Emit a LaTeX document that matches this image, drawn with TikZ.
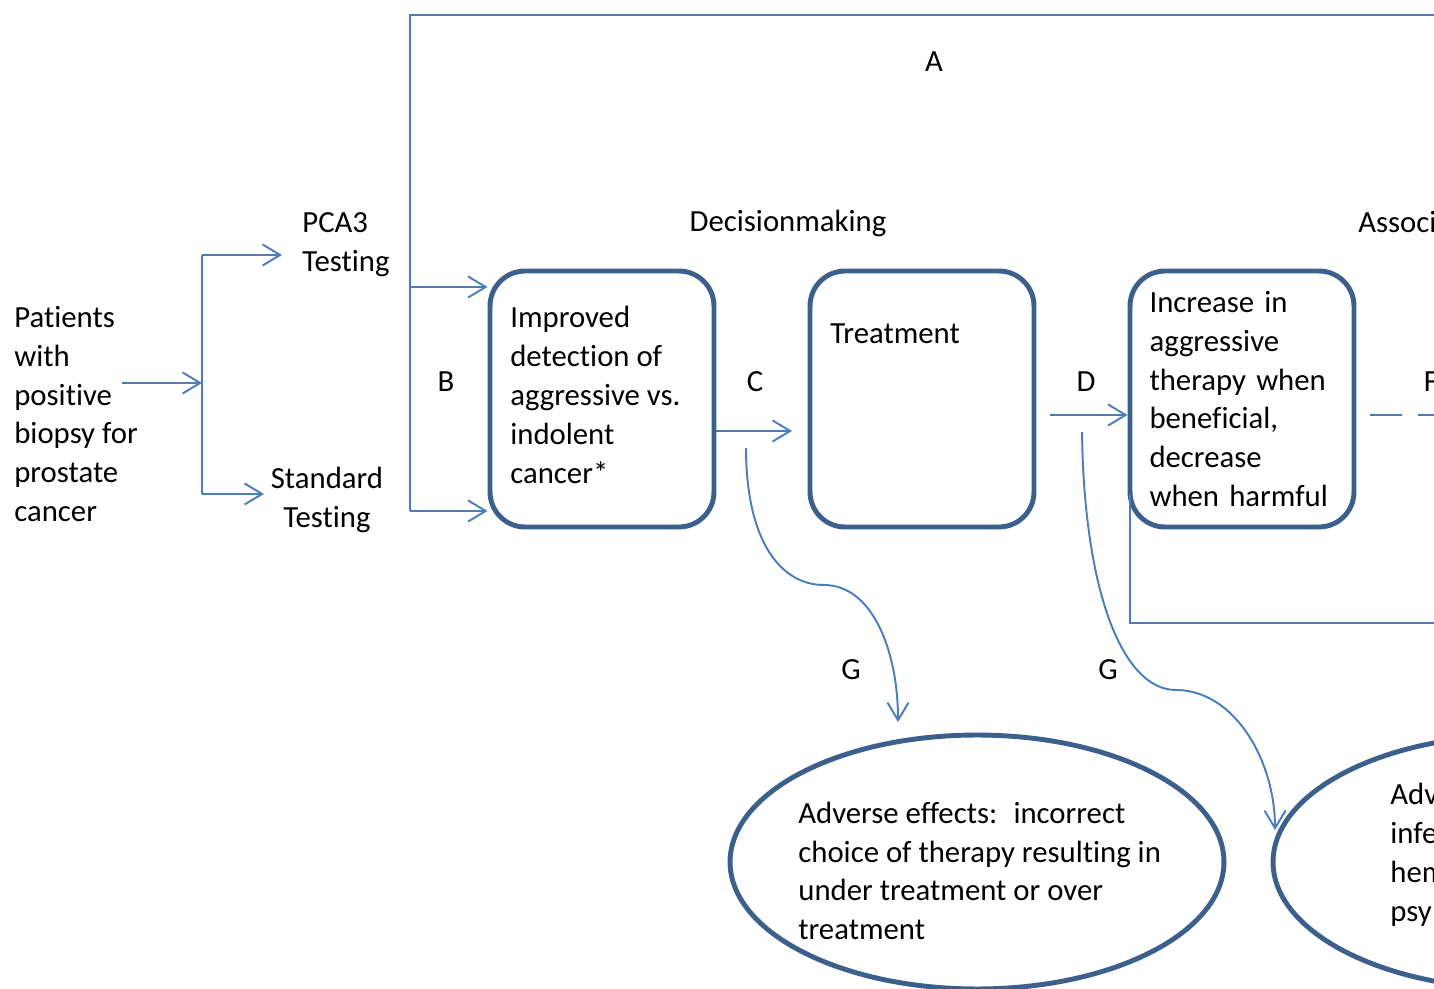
\documentclass[tikz,border=0pt]{standalone}
\usepackage{fontspec}
\setmainfont{Carlito}[Ligatures=NoCommon]
\usepackage{xcolor}
\usetikzlibrary{arrows.meta,positioning,calc,shapes.geometric}
\definecolor{cLine}{HTML}{4A7EBB}
\definecolor{cBox}{HTML}{3C5F8C}
\definecolor{cInk}{HTML}{000000}
\tikzset{
  >={Straight Barb[length=10pt,width=12pt]},
  txt/.style  ={inner sep=0pt,font=\fontsize{17.5}{22.1}\selectfont,text=cInk},
  lbox/.style ={txt,align=left},
  rbox/.style ={txt,draw=cBox,line width=2.8pt,rounded corners=0.7cm,
                minimum width=4.48cm,minimum height=5.12cm,
                text width=3.7cm,align=left},
  obox/.style ={ellipse,draw=cBox,line width=2.8pt,
                minimum width=9.88cm,minimum height=5.08cm},
  ln/.style   ={line width=1.1pt,cLine},
  ar/.style   ={->,ln},
}

\begin{document}
\begin{tikzpicture}[x=0.02cm,y=-0.02cm]
\useasboundingbox (0,0) rectangle (1434,989);
\clip (0,0) rectangle (1434,989);
% left side
\node[lbox,anchor=west] (pat) at (14,414) {Patients\\with\\positive\\biopsy for\\prostate\\cancer};
\node[lbox,anchor=west] (pca) at (302,245) {PCA3\\Testing};
\node[txt,align=center] (std) at (327,500) {Standard\\Testing};
\coordinate (pOut) at (122,383);
\coordinate (split) at (202,383);
\coordinate (sT) at (202,255);
\coordinate (sB) at (202,494);
\coordinate (pT) at (282,255);
\coordinate (pB) at (264,494);
\draw[ar] (pOut) -- (split);
\draw[ln] (sT) -- (sB);
\draw[ar] (sT) -- (pT);
\draw[ar] (sB) -- (pB);
% boxes
\node[rbox] (b1) at (602,399) {};
\node[lbox,anchor=west] (b1t) at (510,395) {Improved\\detection of\\aggressive vs.\\indolent\\cancer*};
\node[rbox] (b2) at (922,399) {};
\node[txt,anchor=west] (trt) at (830,334) {Treatment};
\node[rbox] (b3) at (1242,399) {Increase in\\aggressive\\therapy when\\beneficial,\\decrease\\when harmful};
\node[txt,anchor=base] (dec) at (788,232) {Decisionmaking};
\node[txt,anchor=west] (asc) at (1358,222) {Associ};
% ellipses
\node[obox] (e1) at (977,862) {};
\node[lbox,anchor=west] (e1t) at (798,871) {Adverse effects:~ incorrect\\choice of therapy resulting in\\under treatment or over\\treatment};
\node[obox] (e2) at (1520,862) {};
\node[lbox,anchor=west] (e2t) at (1390,855) {Adv\\infe\\hem\\psy};
% A and B
\coordinate (vB) at (410,511);
\coordinate (vT) at (410,287);
\coordinate (cA) at (410,15);
\coordinate (topR) at (1440,15);
\draw[ln] (vB) -- (cA) -- (topR);
\draw[ar] (vT) -- (vT -| b1.west);
\draw[ar] (vB) -- (vB -| b1.west);
\node[txt] (lA) at (934,62) {A};
\node[txt] (lB) at (446,382) {B};
% C and D
\coordinate (cS) at (716,431);
\coordinate (cE) at (792,431);
\draw[ar] (cS) -- (cE);
\node[txt] (lC) at (755,382) {C};
\coordinate (dS) at (1050,415);
\draw[ar] (dS) -- (dS -| b3.west);
\node[txt] (lD) at (1086,382) {D};
\coordinate (eS) at (1130,495);
\coordinate (eR) at (1440,623);
\draw[ln] (eS) |- (eR);
% F
\coordinate (fS) at (1370,415);
\coordinate (fE) at (1440,415);
\draw[ln,dash pattern=on 18.1pt off 9.1pt] (fS) -- (fE);
\node[txt] (lF) at (1431,382) {F};
% G
\coordinate (g1s) at (746,448);
\coordinate (g1m) at (824,585);
\coordinate (g1e) at (898,722);
\draw[ar] (g1s) .. controls (746,540) and (780,585) .. (g1m)
                .. controls (872,585) and (898,650) .. (g1e);
\node[txt] (lG1) at (851,670) {G};
\coordinate (g2s) at (1082,432);
\coordinate (g2m) at (1176,690);
\coordinate (g2e) at (1275,830);
\draw[ar] (g2s) .. controls (1084,590) and (1122,690) .. (g2m)
                .. controls (1234,690) and (1275,760) .. (g2e);
\node[txt] (lG2) at (1108,670) {G};
\end{tikzpicture}
\end{document}
